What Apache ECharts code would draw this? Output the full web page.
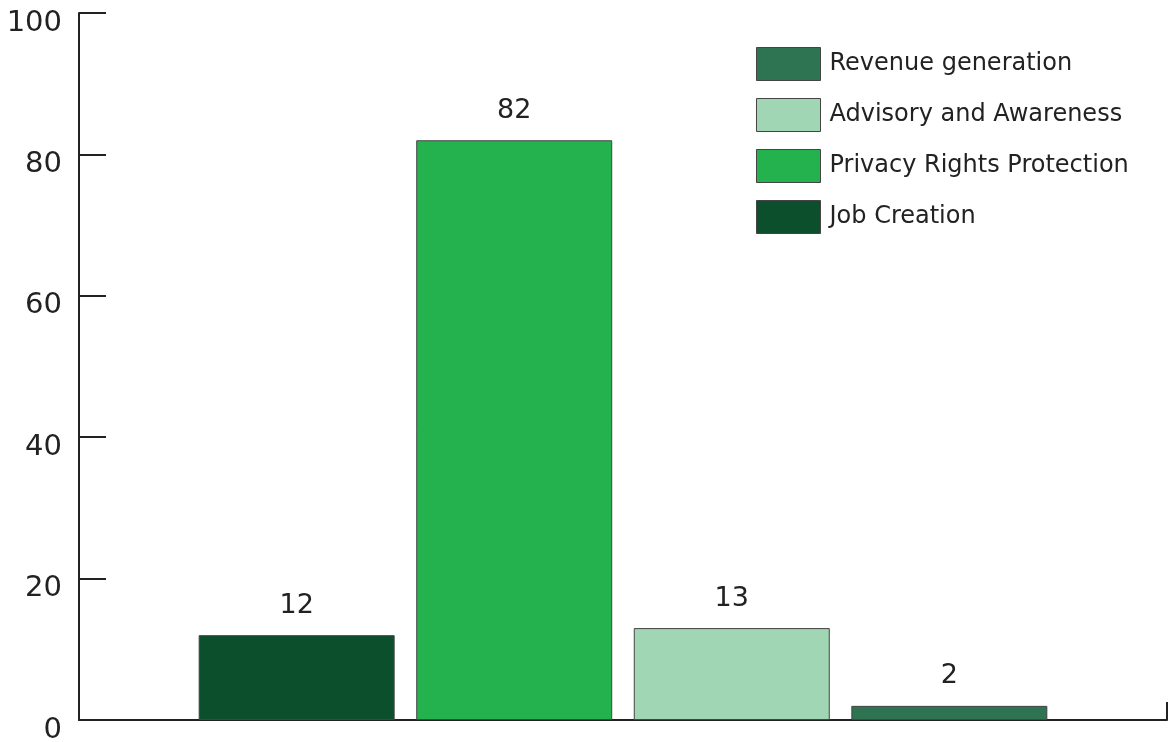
<!DOCTYPE html>
<html>
<head>
<meta charset="utf-8">
<script src="https://cdn.jsdelivr.net/npm/echarts@6/dist/echarts.min.js"></script>
<style>
  html, body { margin: 0; padding: 0; background: #fff; }
  #chart { width: 1168px; height: 742px; }
</style>
</head>
<body>
<div id="chart"></div>
<script>
// Survey outcome shares, one bar per objective
const seriesNames = ['Job Creation', 'Privacy Rights Protection', 'Advisory and Awareness', 'Revenue generation'];
const seriesValues = [12, 82, 13, 2];
const seriesColors = ['#0b4f2c', '#24b24e', '#a0d6b4', '#2e7352'];
const legendOrder = ['Revenue generation', 'Advisory and Awareness', 'Privacy Rights Protection', 'Job Creation'];
const yTicks = { min: 0, max: 100, interval: 20 };

const FONT = 'DejaVu Sans';
const chart = echarts.init(document.getElementById('chart'), null, { renderer: 'canvas' });

const series = seriesNames.map((name, i) => ({
  name,
  type: 'bar',
  data: [seriesValues[i]],
  barWidth: 196,
  barGap: '11%',
  itemStyle: { color: seriesColors[i], borderColor: '#444', borderWidth: 1 },
  label: {
    show: true,
    position: 'top',
    distance: 16,
    color: '#222',
    fontFamily: FONT,
    fontSize: 27
  }
}));

chart.setOption({
  animation: false,
  backgroundColor: '#fff',
  grid: { left: 79, right: 1, top: 13, bottom: 22, containLabel: false, outerBoundsMode: 'none' },
  legend: {
    data: legendOrder,
    orient: 'vertical',
    left: 756,
    top: 47,
    padding: 0,
    itemWidth: 64,
    itemHeight: 33,
    itemGap: 17,
    icon: 'rect',
    itemStyle: { borderColor: '#444', borderWidth: 1 },
    textStyle: { fontFamily: FONT, fontSize: 24, color: '#222', lineHeight: 30, padding: [0, 0, 0, 4] },
    selectedMode: false
  },
  xAxis: {
    type: 'category',
    data: [''],
    axisLine: { show: true, lineStyle: { color: '#222', width: 2 } },
    axisTick: { show: true, inside: true, length: 18, lineStyle: { color: '#222', width: 2 } },
    axisLabel: { show: false }
  },
  yAxis: {
    type: 'value',
    min: yTicks.min,
    max: yTicks.max,
    interval: yTicks.interval,
    splitLine: { show: false },
    axisLine: { show: true, lineStyle: { color: '#222', width: 2 } },
    axisTick: { show: true, inside: true, length: 27, lineStyle: { color: '#222', width: 2 } },
    axisLabel: {
      color: '#222',
      fontFamily: FONT,
      fontSize: 29,
      margin: 17,
      verticalAlign: 'top',
      lineHeight: 20
    }
  },
  series
});
</script>
</body>
</html>
